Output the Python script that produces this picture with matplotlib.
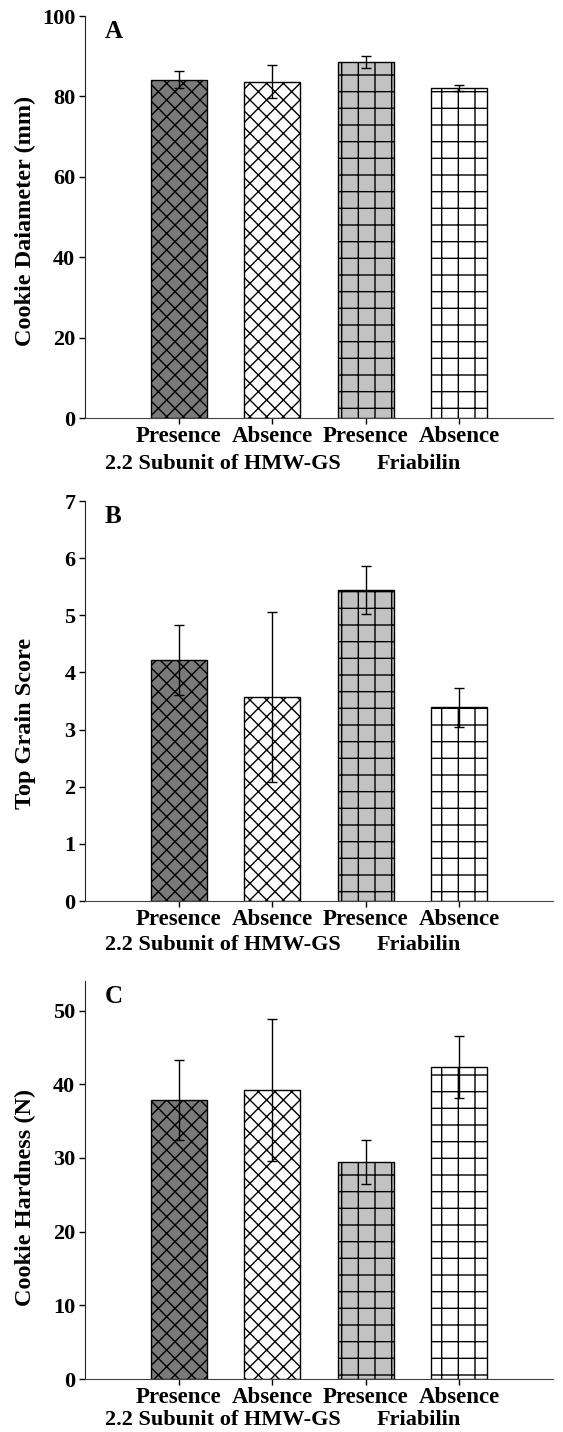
import numpy as np
import matplotlib
matplotlib.use('Agg')
import matplotlib.pyplot as plt

plt.rcParams['font.family'] = ['Liberation Serif', 'DejaVu Serif']
plt.rcParams['font.weight'] = 'bold'
plt.rcParams['hatch.linewidth'] = 1.0

# data
categories = ['Presence', 'Absence', 'Presence', 'Absence']
group_names = ['2.2 Subunit of HMW-GS', 'Friabilin']
group_pos = [1.47, 3.57]

diameter = [84.2, 83.7, 88.6, 82.1]
diameter_err = [2.2, 4.0, 1.5, 0.8]
top_grain = [4.22, 3.57, 5.45, 3.39]
top_grain_err = [0.61, 1.48, 0.42, 0.34]
hardness = [37.9, 39.2, 29.5, 42.4]
hardness_err = [5.4, 9.6, 3.0, 4.2]

fills = ['#7a7a7a', 'white', '#c2c2c2', 'white']
hatches = ['xx', 'xx', '+', '+']

# letter, values, errors, y label, ylim, yticks, ylabel y-pos, group label offset (pt)
panels = [
    ('A', diameter, diameter_err, 'Cookie Daiameter (mm)', (0, 100), np.arange(0, 101, 20), 0.49, -33),
    ('B', top_grain, top_grain_err, 'Top Grain Score', (0, 7), np.arange(0, 8, 1), 0.445, -32),
    ('C', hardness, hardness_err, 'Cookie Hardness (N)', (0, 54), np.arange(0, 51, 10), 0.457, -29.5),
]
# axes boxes in figure fraction
boxes = [
    [0.151, 0.7081, 0.831, 0.2807],
    [0.151, 0.3708, 0.831, 0.2793],
    [0.151, 0.0370, 0.831, 0.2779],
]

fig = plt.figure(figsize=(5.63, 14.32), dpi=100)
x = np.arange(1, len(categories) + 1)

for (letter, vals, errs, ylab, ylim, yt, ylab_y, goff), box in zip(panels, boxes):
    ax = fig.add_axes(box)
    for xi, v, f, h in zip(x, vals, fills, hatches):
        ax.bar(xi, v, width=0.6, color=f, hatch=h, edgecolor='black', linewidth=1.0)
    ax.errorbar(x, vals, yerr=errs, fmt='none', ecolor='black', elinewidth=1.0,
                capsize=3.5, capthick=1.0)
    ax.set_xlim(0, 5)
    ax.set_ylim(*ylim)
    ax.set_yticks(yt)
    ax.set_xticks(x)
    ax.set_xticklabels(categories, fontsize=16.5, fontweight='bold')
    ax.tick_params(axis='y', direction='out', length=4, width=1, pad=3, labelsize=16)
    ax.tick_params(axis='x', direction='out', length=4, width=1, pad=2)
    for lab in ax.get_yticklabels():
        lab.set_fontweight('bold')
    ax.spines['top'].set_visible(False)
    ax.spines['right'].set_visible(False)
    ax.spines['left'].set_color('#222222')
    ax.spines['bottom'].set_color('#444444')
    ax.set_ylabel(ylab, fontsize=17.5, fontweight='bold')
    ax.yaxis.set_label_coords(-0.105, ylab_y)
    ax.text(0.042, 0.99, letter, transform=ax.transAxes, fontsize=18,
            fontweight='bold', va='top', ha='left')
    for gx, gname in zip(group_pos, group_names):
        ax.annotate(gname, xy=(gx, 0), xycoords=('data', 'axes fraction'),
                    xytext=(0, goff), textcoords='offset points',
                    ha='center', va='center', fontsize=16, fontweight='bold')

fig.savefig('out.png', dpi=100)
